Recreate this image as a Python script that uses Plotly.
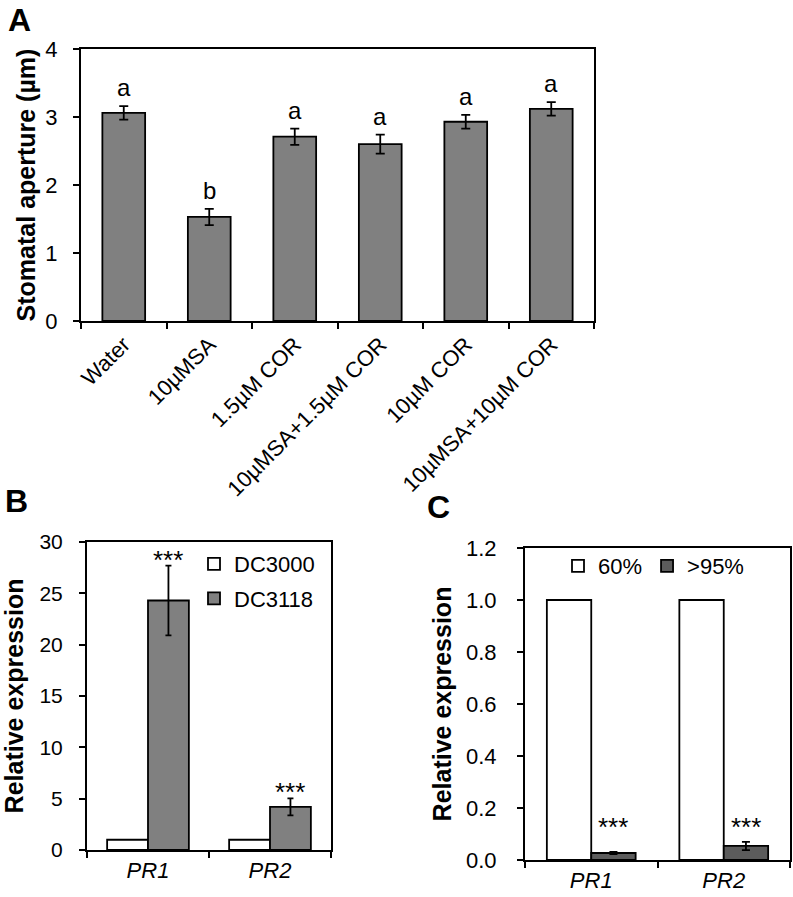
import plotly.graph_objects as go

# ---------------- data ----------------
treatments = ["Water", "10µMSA", "1.5µM COR", "10µMSA+1.5µM COR", "10µM COR", "10µMSA+10µM COR"]
aperture = [3.06, 1.53, 2.71, 2.60, 2.93, 3.12]
aperture_err = [0.10, 0.12, 0.12, 0.14, 0.10, 0.10]
aperture_letters = ["a", "b", "a", "a", "a", "a"]

genes = ["PR1", "PR2"]
dc3000 = [1.0, 1.0]
dc3000_err = [0.0, 0.0]
dc3118 = [24.3, 4.2]
dc3118_err = [3.4, 0.83]

hum60 = [1.0, 1.0]
hum60_err = [0.0, 0.0]
hum95 = [0.027, 0.054]
hum95_err = [0.004, 0.016]
stars = ["***", "***"]

FONT = "Arial, 'Liberation Sans', sans-serif"
GRAY = "#808080"
DARK = "#5c5c5c"
gene_labels = [f"<i>{g}</i>" for g in genes]

fig = go.Figure()

# Panel A
fig.add_trace(go.Bar(
    x=treatments, y=aperture, width=0.5,
    marker=dict(color=GRAY, line=dict(color="black", width=1.8)),
    error_y=dict(type="data", array=aperture_err, color="black", thickness=1.8, width=4.5),
    xaxis="x", yaxis="y", showlegend=False))

# Panel B
fig.add_trace(go.Bar(
    x=gene_labels, y=dc3000, name="DC3000", legendgroup="g1",
    marker=dict(color="white", line=dict(color="black", width=1.8)),
    xaxis="x2", yaxis="y2", legend="legend"))
fig.add_trace(go.Bar(
    x=gene_labels, y=dc3118, name="DC3118", legendgroup="g2",
    marker=dict(color=GRAY, line=dict(color="black", width=1.8)),
    error_y=dict(type="data", array=dc3118_err, color="black", thickness=1.8, width=3),
    xaxis="x2", yaxis="y2", legend="legend"))

# Panel C
fig.add_trace(go.Bar(
    x=gene_labels, y=hum60, name="60%",
    marker=dict(color="white", line=dict(color="black", width=1.8)),
    xaxis="x3", yaxis="y3", legend="legend2"))
fig.add_trace(go.Bar(
    x=gene_labels, y=hum95, name=">95%",
    marker=dict(color=DARK, line=dict(color="black", width=1.8)),
    error_y=dict(type="data", array=hum95_err, color="black", thickness=1.8, width=4),
    xaxis="x3", yaxis="y3", legend="legend2"))

annotations = []
for t, v, e, l in zip(treatments, aperture, aperture_err, aperture_letters):
    annotations.append(dict(x=t, y=v + e, xref="x", yref="y", text=l, showarrow=False,
                            yanchor="bottom", yshift=3, font=dict(size=24, color="black", family=FONT)))
for g, v, e, s in zip(gene_labels, dc3118, dc3118_err, stars):
    annotations.append(dict(x=g, y=v + e, xref="x2", yref="y2", text=s, showarrow=False,
                            xshift=20, yanchor="bottom", yshift=-11,
                            font=dict(size=26, color="black", family=FONT)))
for g, s in zip(gene_labels, stars):
    annotations.append(dict(x=g, y=0.146, xref="x3", yref="y3", text=s, showarrow=False,
                            xshift=22, yanchor="middle", yshift=-5,
                            font=dict(size=26, color="black", family=FONT)))

for lab, x, y in [("A", 6, 0), ("B", 3, 481), ("C", 425, 487)]:
    annotations.append(dict(x=x / 793, y=1 - y / 897, xref="paper", yref="paper", text=f"<b>{lab}</b>",
                            showarrow=False, xanchor="left", yanchor="top",
                            font=dict(size=32, color="black", family=FONT)))

axis_common = dict(showline=True, linecolor="black", linewidth=2, mirror=True,
                   ticks="outside", ticklen=6, tickwidth=2, tickcolor="black",
                   showgrid=False, zeroline=False, automargin=False,
                   tickfont=dict(size=21, color="black", family=FONT))
title_font = dict(size=25, color="black", family=FONT)

fig.update_layout(
    width=793, height=897,
    margin=dict(l=0, r=0, t=0, b=0, autoexpand=False),
    paper_bgcolor="white", plot_bgcolor="white",
    barmode="group", bargap=0.33, bargroupgap=0,
    font=dict(family=FONT, color="black"),
    xaxis=dict(axis_common, domain=[81 / 793, 594 / 793], anchor="y", tickson="boundaries",
               tickangle=-45, tickfont=dict(size=22, color="black", family=FONT)),
    yaxis=dict(axis_common, domain=[1 - 321 / 897, 1 - 49 / 897], anchor="x", range=[0, 4], dtick=1,
               ticklabelstandoff=11, tickfont=dict(size=22, color="black", family=FONT),
               title=dict(text="<b>Stomatal aperture (µm)</b>", font=title_font, standoff=3)),
    xaxis2=dict(axis_common, domain=[87 / 793, 331 / 793], anchor="y2", tickson="boundaries",
                tickfont=dict(size=22, color="black", family=FONT)),
    yaxis2=dict(axis_common, domain=[1 - 850 / 897, 1 - 542 / 897], anchor="x2", range=[0, 30], dtick=5,
                ticklabelstandoff=12,
                title=dict(text="<b>Relative expression</b>", font=title_font, standoff=10)),
    xaxis3=dict(axis_common, domain=[525 / 793, 790 / 793], anchor="y3", tickson="boundaries",
                tickfont=dict(size=22, color="black", family=FONT)),
    yaxis3=dict(axis_common, domain=[1 - 860 / 897, 1 - 548 / 897], anchor="x3", range=[0, 1.2], dtick=0.2,
                tickformat=".1f", ticklabelstandoff=16, tickfont=dict(size=22, color="black", family=FONT),
                title=dict(text="<b>Relative expression</b>", font=title_font, standoff=7)),
    legend=dict(x=194 / 793, y=1 - 543 / 897, xanchor="left", yanchor="top", bgcolor="rgba(0,0,0,0)",
                font=dict(size=22, color="black", family=FONT), itemwidth=30, tracegroupgap=3),
    legend2=dict(x=558 / 793, y=1 - 545 / 897, xanchor="left", yanchor="top", orientation="h",
                 bgcolor="rgba(0,0,0,0)", font=dict(size=22, color="black", family=FONT), itemwidth=30),
    annotations=annotations,
)

fig.write_html("out.html", config={"displayModeBar": False},
               post_script="document.body.style.margin='0px';document.body.style.overflow='hidden';")
